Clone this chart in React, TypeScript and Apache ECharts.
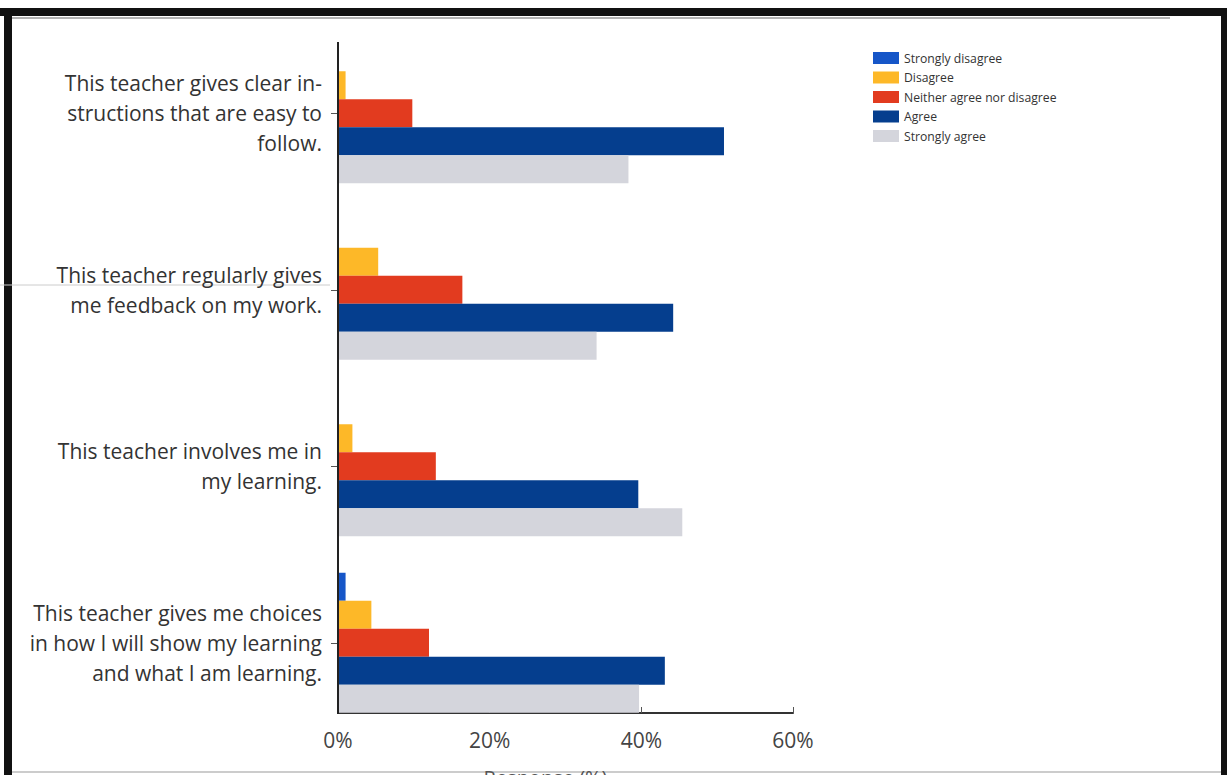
import React, { useEffect, useRef } from "react";
import * as echarts from "echarts";

const categories = [
  "This teacher gives clear in-\nstructions that are easy to\nfollow.",
  "This teacher regularly gives\nme feedback on my work.",
  "This teacher involves me in\nmy learning.",
  "This teacher gives me choices\nin how I will show my learning\nand what I am learning.",
];
const seriesNames = [
  "Strongly disagree",
  "Disagree",
  "Neither agree nor disagree",
  "Agree",
  "Strongly agree",
];
const stronglyDisagree = [0, 0, 0, 1.0];
const disagree = [1.0, 5.3, 1.9, 4.4];
const neither = [9.8, 16.4, 12.9, 12.0];
const agree = [50.9, 44.2, 39.6, 43.1];
const stronglyAgree = [38.3, 34.1, 45.4, 39.7];
const xTicks = [0, 20, 40, 60];
const colors = ["#1656c8", "#fdb828", "#e23b1f", "#053e8e", "#d4d5dc"];

export default function App() {
  const ref = useRef<HTMLDivElement>(null);
  useEffect(() => {
    document.body.style.margin = "0";
    if (!ref.current) return;
    const chart = echarts.init(ref.current, undefined, { renderer: "svg" });
    const values = [stronglyDisagree, disagree, neither, agree, stronglyAgree];
    const font = "'Open Sans', sans-serif";
    chart.setOption({
      animation: false,
      backgroundColor: "#ffffff",
      textStyle: { fontFamily: font },
      legend: {
        orient: "vertical",
        left: 868,
        top: 47,
        itemWidth: 26,
        itemHeight: 12,
        itemGap: 7.5,
        icon: "rect",
        data: seriesNames,
        textStyle: { fontSize: 12.2, color: "#333", fontFamily: font },
      },
      grid: { left: 338, right: 434, top: 25, bottom: 44, containLabel: false, outerBoundsMode: "none" },
      xAxis: {
        type: "value",
        min: 0,
        max: 60,
        interval: 20,
        offset: -18,
        axisLine: { show: true, lineStyle: { color: "#333", width: 2 } },
        axisTick: { show: true, inside: true, length: 6, lineStyle: { color: "#555" } },
        splitLine: { show: false },
        axisLabel: {
          margin: 16,
          fontSize: 21,
          color: "#444",
          fontFamily: font,
          formatter: (v: number) => (xTicks.includes(v) ? v + "%" : ""),
        },
        name: "Response (%)",
        nameLocation: "middle",
        nameGap: 54,
        nameTextStyle: { fontSize: 20, color: "#555", fontFamily: font, padding: [0, 40, 0, 0] },
      },
      yAxis: {
        type: "category",
        inverse: true,
        data: categories,
        axisLine: { show: false },
        axisTick: { show: true, alignWithLabel: true, length: 7, lineStyle: { color: "#555" } },
        axisLabel: {
          margin: 16,
          fontSize: 21,
          lineHeight: 30,
          color: "#333",
          align: "right",
          fontFamily: font,
        },
      },
      series: seriesNames.map((name, i) => ({
        name,
        type: "bar",
        data: values[i],
        barWidth: 28,
        barGap: "0%",
        itemStyle: { color: colors[i] },
      })),
      graphic: [
        { type: "line", shape: { x1: 338, y1: 42, x2: 338, y2: 714 }, style: { stroke: "#222", lineWidth: 2 }, z: 100 },
        { type: "rect", shape: { x: 0, y: 8, width: 1227, height: 8 }, style: { fill: "#111" } },
        { type: "line", shape: { x1: 12, y1: 18, x2: 1170, y2: 18 }, style: { stroke: "#999", lineWidth: 1.5 } },
        { type: "rect", shape: { x: 4, y: 8, width: 8, height: 767 }, style: { fill: "#111" } },
        { type: "rect", shape: { x: 1221, y: 8, width: 6, height: 767 }, style: { fill: "#111" } },
        { type: "line", shape: { x1: 12, y1: 772, x2: 1221, y2: 772 }, style: { stroke: "#bbb", lineWidth: 1.5 } },
        { type: "line", shape: { x1: 0, y1: 285, x2: 330, y2: 285 }, style: { stroke: "#ccc", lineWidth: 1 } },
      ],
    });
    return () => chart.dispose();
  }, []);
  return <div ref={ref} style={{ width: 1227, height: 775 }} />;
}
